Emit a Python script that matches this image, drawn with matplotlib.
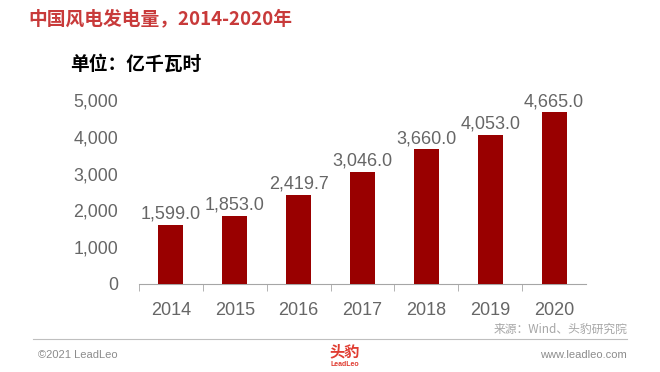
import matplotlib.pyplot as plt

plt.rcParams['font.family'] = ['Liberation Sans', 'Noto Sans CJK SC', 'DejaVu Sans']

# 数据
years = ["2014", "2015", "2016", "2017", "2018", "2019", "2020"]
output = [1599.0, 1853.0, 2419.7, 3046.0, 3660.0, 4053.0, 4665.0]
y_ticks = [0, 1000, 2000, 3000, 4000, 5000]

bar_color = "#990000"
text_gray = "#666666"
cjk = ['Noto Sans CJK SC', 'DejaVu Sans']

fig = plt.figure(figsize=(6.6, 3.72), dpi=100)
ax = fig.add_axes([139 / 660, 1 - 284 / 372, (586 - 139) / 660, (284 - 100) / 372])

x = range(len(years))
bars = ax.bar(x, output, width=0.39, color=bar_color, zorder=3)
for b, v in zip(bars, output):
    ax.text(b.get_x() + b.get_width() / 2, v + 60, f"{v:,.1f}",
            ha="center", va="bottom", fontsize=13, color=text_gray)

ax.set_xlim(-0.5, len(years) - 0.5)
ax.set_ylim(0, 5000)
ax.set_yticks(y_ticks)
ax.set_yticklabels([f"{t:,}" for t in y_ticks], fontsize=12.8, color=text_gray)
ax.set_xticks(list(x))
ax.set_xticklabels(years, fontsize=13, color=text_gray)
ax.tick_params(axis="y", length=0, pad=15)
ax.tick_params(axis="x", which="major", length=0, pad=13)
ax.set_xticks([i - 0.5 for i in range(len(years))], minor=True)
ax.tick_params(axis="x", which="minor", length=5, color="#a6a6a6", direction="out")

for s in ["top", "right", "left"]:
    ax.spines[s].set_visible(False)
ax.spines["bottom"].set_color("#a6a6a6")

# 标题和注释
fig.text(28 / 660, 1 - 19 / 372, "中国风电发电量，2014-2020年", family=cjk,
         fontsize=13.5, fontweight="bold", color="#c83a3a", va="center")
fig.text(70 / 660, 1 - 64 / 372, "单位：亿千瓦时", family=cjk,
         fontsize=13.5, fontweight="bold", color="black", va="center")

fig.add_artist(plt.Line2D([33 / 660, 627 / 660], [1 - 339 / 372, 1 - 339 / 372],
                          color="#bfbfbf", lw=0.8))
fig.text(627 / 660, 1 - 329 / 372, "来源：Wind、头豹研究院", family=cjk,
         fontsize=8.5, style="italic", color="#a6a6a6", ha="right", va="center")
fig.text(627 / 660, 1 - 355 / 372, "www.leadleo.com",
         fontsize=8, color="#8c8c8c", ha="right", va="center")
fig.text(38 / 660, 1 - 355 / 372, "©2021 LeadLeo",
         fontsize=8, color="#8c8c8c", ha="left", va="center")
fig.text(345 / 660, 1 - 351 / 372, "头豹", family=cjk,
         fontsize=11, fontweight="bold", color="#e03c31", ha="center", va="center")
fig.text(345 / 660, 1 - 364 / 372, "LeadLeo",
         fontsize=5, fontweight="bold", color="#e03c31", ha="center", va="center")

fig.savefig("out.png", dpi=100)
